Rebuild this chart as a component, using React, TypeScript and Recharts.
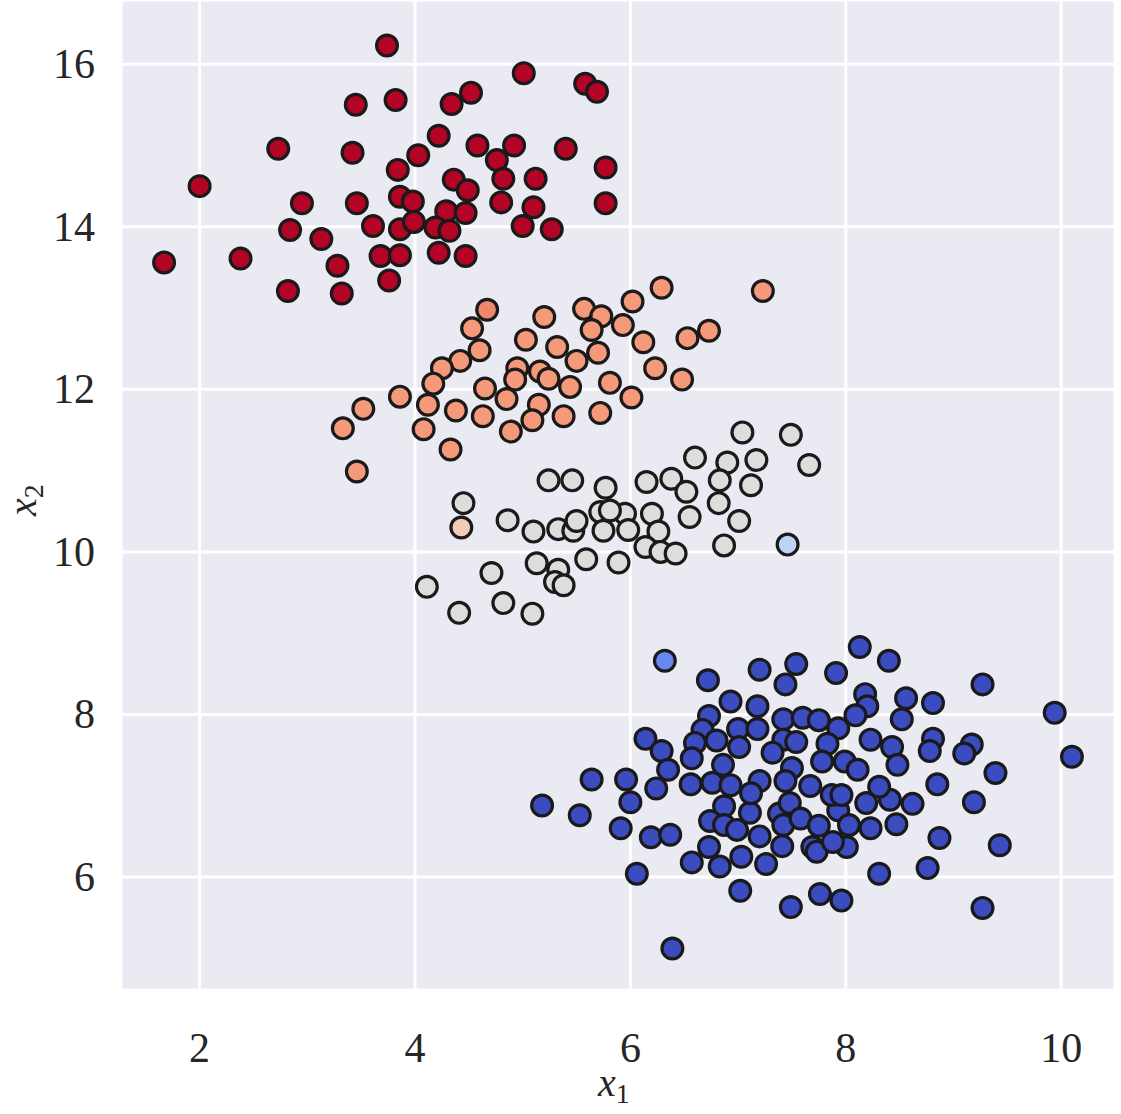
import React from 'react';
import { ScatterChart, Scatter, XAxis, YAxis, CartesianGrid } from 'recharts';

// cluster points, [x1, x2]
const redPoints = [
  [3.74, 16.23], [3.45, 15.5], [3.82, 15.56], [4.34, 15.51], [4.52, 15.65], [2.73, 14.96], [3.42, 14.91],
  [4.22, 15.12], [4.03, 14.88], [3.84, 14.7], [2.0, 14.5], [4.36, 14.58], [4.49, 14.45], [2.95, 14.29],
  [3.46, 14.29], [3.86, 14.37], [3.98, 14.31], [4.29, 14.19], [4.47, 14.17], [2.84, 13.96], [3.13, 13.85],
  [3.61, 14.01], [3.86, 13.97], [3.99, 14.06], [4.19, 13.99], [4.32, 13.95], [1.67, 13.56], [2.38, 13.61],
  [3.28, 13.52], [3.68, 13.64], [3.86, 13.65], [4.22, 13.68], [4.47, 13.64], [2.82, 13.21], [3.32, 13.18],
  [3.76, 13.34], [5.01, 15.89], [5.58, 15.76], [5.69, 15.66], [4.58, 15.0], [4.92, 15.0], [4.76, 14.82],
  [5.4, 14.96], [5.77, 14.73], [4.82, 14.59], [5.12, 14.59], [4.8, 14.3], [5.1, 14.24], [5.77, 14.29],
  [5.0, 14.01], [5.27, 13.97],
];

const orangePoints = [
  [5.2, 12.89], [4.53, 12.75], [5.03, 12.61], [5.32, 12.52], [4.6, 12.48], [4.42, 12.35], [4.25, 12.26],
  [4.95, 12.26], [4.93, 12.12], [5.16, 12.22], [5.24, 12.13], [4.17, 12.07], [4.65, 12.01], [4.85, 11.88],
  [5.15, 11.81], [5.09, 11.62], [4.89, 11.48], [4.63, 11.67], [4.38, 11.74], [4.12, 11.81], [3.86, 11.91],
  [4.08, 11.51], [3.52, 11.76], [3.33, 11.52], [4.33, 11.26], [3.46, 10.99], [6.29, 13.25], [7.23, 13.21],
  [5.57, 12.99], [5.73, 12.9], [6.02, 13.08], [5.64, 12.73], [5.93, 12.79], [6.12, 12.58], [6.53, 12.63],
  [6.73, 12.72], [5.5, 12.35], [5.7, 12.45], [6.23, 12.26], [6.48, 12.12], [5.44, 12.03], [5.81, 12.08],
  [6.01, 11.9], [5.38, 11.67], [5.72, 11.71],
];
const salmonPoints = [[4.67, 12.98]];
const peachPoints = [[4.43, 10.3]];

const grayPoints = [
  [5.24, 10.88], [5.46, 10.88], [5.77, 10.79], [4.45, 10.6], [4.86, 10.39], [5.1, 10.25], [5.33, 10.28],
  [5.47, 10.26], [5.5, 10.38], [5.72, 10.49], [5.75, 10.26], [5.13, 9.86], [5.33, 9.78], [5.3, 9.63],
  [5.38, 9.59], [5.59, 9.91], [4.71, 9.74], [4.11, 9.57], [4.41, 9.25], [4.82, 9.37], [5.09, 9.24],
  [7.04, 11.47], [7.49, 11.44], [6.6, 11.16], [6.9, 11.1], [7.17, 11.13], [7.66, 11.07], [6.15, 10.86],
  [6.38, 10.9], [6.52, 10.74], [6.83, 10.88], [7.12, 10.82], [6.82, 10.6], [5.95, 10.47], [6.2, 10.47],
  [6.55, 10.43], [7.01, 10.38], [5.81, 10.51], [5.98, 10.27], [6.26, 10.25], [6.14, 10.06], [6.28, 10.0],
  [6.42, 9.98], [6.87, 10.08], [5.89, 9.87],
];
const paleBluePoints = [[7.46, 10.09]];
const midBluePoints = [[6.32, 8.66]];

const bluePoints = [
  [6.72, 8.42], [6.93, 8.16], [6.73, 7.98], [6.67, 7.81], [6.8, 7.68], [6.6, 7.65], [6.14, 7.7],
  [6.29, 7.55], [6.57, 7.46], [6.86, 7.38], [6.35, 7.32], [6.56, 7.14], [6.76, 7.16], [6.24, 7.09],
  [5.96, 7.2], [5.64, 7.2], [6.0, 6.92], [5.18, 6.88], [5.53, 6.76], [6.87, 6.87],
  [5.91, 6.6], [6.19, 6.49], [6.37, 6.52], [6.74, 6.69], [6.87, 6.64], [6.73, 6.37], [6.57, 6.18],
  [6.83, 6.13], [6.06, 6.04], [6.39, 5.12],
  [7.02, 5.83], [7.49, 5.63], [7.76, 5.79], [7.96, 5.71], [8.31, 6.04], [8.76, 6.11], [7.03, 6.25],
  [7.26, 6.16], [7.41, 6.38], [7.69, 6.37], [7.73, 6.31], [8.01, 6.37], [7.88, 6.43], [7.2, 6.5],
  [6.99, 6.58], [7.11, 6.79], [7.38, 6.78], [7.42, 6.64], [7.48, 6.91], [7.58, 6.72], [7.75, 6.63],
  [7.93, 6.82], [8.03, 6.64], [8.23, 6.6], [8.47, 6.65], [8.19, 6.91], [8.41, 6.95], [8.62, 6.9],
  [8.13, 8.83], [8.4, 8.66], [7.2, 8.55], [7.54, 8.62], [7.44, 8.37], [7.91, 8.51], [8.18, 8.25],
  [8.2, 8.1], [8.09, 7.99], [8.56, 8.2], [8.52, 7.94], [7.18, 8.1], [7.0, 7.82], [7.18, 7.82],
  [7.42, 7.94], [7.6, 7.96], [7.75, 7.93], [7.93, 7.83], [7.42, 7.69], [7.54, 7.66], [7.32, 7.53],
  [7.83, 7.64], [7.01, 7.6], [8.23, 7.69], [8.43, 7.6], [8.48, 7.38], [7.78, 7.42], [7.99, 7.42],
  [8.11, 7.32], [7.5, 7.34], [7.44, 7.18], [7.2, 7.18], [6.93, 7.13], [7.12, 7.03], [7.67, 7.12],
  [7.87, 7.01], [7.96, 7.01], [8.31, 7.11],
  [9.27, 8.37], [8.81, 8.14], [9.94, 8.02], [8.81, 7.7], [8.78, 7.55], [9.17, 7.63], [9.1, 7.52],
  [10.1, 7.48], [9.39, 7.28], [8.85, 7.14], [9.19, 6.92], [8.87, 6.48], [9.43, 6.39], [9.27, 5.62],
];

const xTicks = [2, 4, 6, 8, 10];
const yTicks = [6, 8, 10, 12, 14, 16];

const toRows = (pts: number[][]) => pts.map(([x, y]) => ({ x, y }));

const FONT = "'Liberation Serif', 'DejaVu Serif', serif";
const TEXT = '#262626';

const dot = (fill: string) => (props: any) => (
  <circle cx={props.cx} cy={props.cy} r={10.4} fill={fill} stroke="#1a1a1a" strokeWidth={3.2} />
);

const XTick = ({ x, y, payload }: any) => (
  <text x={x} y={y + 70} textAnchor="middle" fontFamily={FONT} fontSize={42} fill={TEXT}>
    {payload.value}
  </text>
);

const YTick = ({ x, y, payload }: any) => (
  <text x={x - 24} y={y + 14} textAnchor="end" fontFamily={FONT} fontSize={42} fill={TEXT}>
    {payload.value}
  </text>
);

const series = [
  { name: 'blue', pts: bluePoints, color: '#3b4cc0' },
  { name: 'midblue', pts: midBluePoints, color: '#6788ee' },
  { name: 'gray', pts: grayPoints, color: '#dcdddd' },
  { name: 'paleblue', pts: paleBluePoints, color: '#bfd3f6' },
  { name: 'peach', pts: peachPoints, color: '#f2cbb7' },
  { name: 'orange', pts: orangePoints, color: '#f49a7b' },
  { name: 'salmon', pts: salmonPoints, color: '#ef886b' },
  { name: 'red', pts: redPoints, color: '#b40426' },
];

export default function App() {
  return (
    <div style={{ position: 'absolute', left: 0, top: 0, width: 1121, height: 1114 }}>
      <ScatterChart width={1121} height={1114} margin={{ top: 0, right: 6, bottom: 0, left: 0 }}>
        <CartesianGrid fill="#eaeaf2" stroke="#ffffff" strokeWidth={3} />
        <XAxis
          type="number"
          dataKey="x"
          domain={[1.27, 10.5]}
          ticks={xTicks}
          allowDataOverflow
          height={124}
          axisLine={false}
          tickLine={false}
          tickSize={0}
          tick={<XTick />}
        />
        <YAxis
          type="number"
          dataKey="y"
          domain={[4.61, 16.79]}
          ticks={yTicks}
          allowDataOverflow
          width={121}
          axisLine={false}
          tickLine={false}
          tickSize={0}
          tick={<YTick />}
        />
        {series.map((s) => (
          <Scatter
            key={s.name}
            name={s.name}
            data={toRows(s.pts)}
            isAnimationActive={false}
            shape={dot(s.color)}
          />
        ))}
      </ScatterChart>
      {/* axis titles */}
      <svg
        width={1121}
        height={1114}
        style={{ position: 'absolute', left: 0, top: 0, pointerEvents: 'none' }}
      >
        <text x={598} y={1096} fontFamily={FONT} fontSize={40} fill={TEXT}>
          <tspan fontStyle="italic">x</tspan>
          <tspan fontSize={28} dy={7}>1</tspan>
        </text>
        <text
          transform="translate(36 516) rotate(-90)"
          fontFamily={FONT}
          fontSize={40}
          fill={TEXT}
        >
          <tspan fontStyle="italic">x</tspan>
          <tspan fontSize={28} dy={7}>2</tspan>
        </text>
      </svg>
    </div>
  );
}
